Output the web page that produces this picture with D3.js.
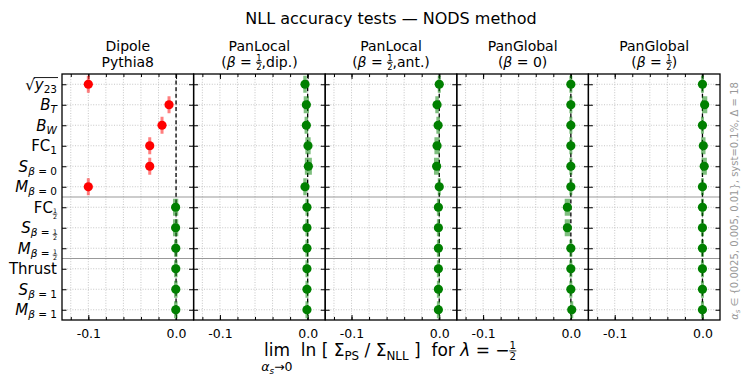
<!DOCTYPE html>
<html>
<head>
<meta charset="utf-8">
<script src="https://cdn.jsdelivr.net/npm/d3@7"></script>
<style>
  body { margin: 0; background: #fff; }
  text { font-family: "DejaVu Sans", sans-serif; white-space: pre; }
</style>
</head>
<body>
<svg id="chart" width="747" height="384"></svg>
<script>
// Observables (rows, top to bottom) written as math parts: [text, kind]
const observables = [
  [["√", "r"], ["y", "i"], ["23", "sub"]],
  [["B", "i"], ["T", "subi"]],
  [["B", "i"], ["W", "subi"]],
  [["FC", "r"], ["1", "sub"]],
  [["S", "i"], ["β", "subi"], [" = 0", "sub"]],
  [["M", "i"], ["β", "subi"], [" = 0", "sub"]],
  [["FC", "r"], ["12", "sfrac"]],
  [["S", "i"], ["β", "subi"], [" = ", "sub"], ["12", "sfrac"]],
  [["M", "i"], ["β", "subi"], [" = ", "sub"], ["12", "sfrac"]],
  [["Thrust", "r"]],
  [["S", "i"], ["β", "subi"], [" = 1", "sub"]],
  [["M", "i"], ["β", "subi"], [" = 1", "sub"]]
];

// Shower titles (two lines each)
const showerTop = ["Dipole", "PanLocal", "PanLocal", "PanGlobal", "PanGlobal"];
const showerSub = [
  [["Pythia8", "r"]],
  [["(", "r"], ["β", "i"], [" = ", "r"], ["12", "frac"], [",dip.)", "r"]],
  [["(", "r"], ["β", "i"], [" = ", "r"], ["12", "frac"], [",ant.)", "r"]],
  [["(", "r"], ["β", "i"], [" = 0)", "r"]],
  [["(", "r"], ["β", "i"], [" = ", "r"], ["12", "frac"], [")", "r"]]
];

// lim ln(Sigma_PS / Sigma_NLL), one array per shower
const dipoleVals    = [-0.100, -0.008, -0.016, -0.030, -0.030, -0.100, -0.0005, -0.0005, -0.0003, -0.0003, -0.0003, -0.0003];
const panLocalDip   = [-0.003, -0.0015, -0.0015, 0.0004, 0.0008, -0.003, -0.0008, -0.0008, -0.0008, -0.0008, -0.0008, -0.0008];
const panLocalAnt   = [0.000, -0.0025, -0.0013, -0.0025, -0.003, 0.000, -0.001, -0.001, -0.001, -0.001, -0.001, -0.001];
const panGlobal0    = [0.000, 0.000, 0.000, 0.000, 0.000, 0.000, -0.004, -0.004, 0.000, 0.000, 0.000, 0.001];
const panGlobalHalf = [0.000, 0.0025, 0.000, 0.001, 0.002, 0.000, 0.000, 0.000, 0.000, 0.000, 0.000, 0.000];

// uncertainties (half widths)
const dipoleErr    = [0.0015, 0.0015, 0.0015, 0.0015, 0.0015, 0.0015, 0.003, 0.003, 0.002, 0.002, 0.002, 0.002];
const panLocalDipE = [0.002, 0.003, 0.002, 0.003, 0.004, 0.002, 0.0015, 0.0015, 0.0015, 0.0015, 0.0015, 0.0015];
const panLocalAntE = [0.0015, 0.002, 0.002, 0.003, 0.003, 0.0015, 0.0015, 0.0015, 0.0015, 0.0015, 0.0015, 0.0015];
const panGlobal0E  = [0.0015, 0.0015, 0.0015, 0.0015, 0.0015, 0.0015, 0.003, 0.003, 0.0015, 0.0015, 0.0015, 0.0015];
const panGlobalHE  = [0.0015, 0.003, 0.0015, 0.0025, 0.003, 0.0015, 0.0015, 0.0015, 0.0015, 0.0015, 0.0015, 0.0015];

const allVals = [dipoleVals, panLocalDip, panLocalAnt, panGlobal0, panGlobalHalf];
const allErrs = [dipoleErr, panLocalDipE, panLocalAntE, panGlobal0E, panGlobalHE];

const xMajor = [-0.1, 0.0];
const xMinor = [-0.12, -0.1, -0.08, -0.06, -0.04, -0.02, 0.0];
const groupBreaks = [5.5, 8.5]; // separators between observable groups

const svg = d3.select("#chart");
const plotLeft = 62, plotTop = 74, pw = 131.6, ph = 246;

// renders mathtext-like labels with sub/superscripts and stacked fractions
function mathText(g, parts, x, y, size, anchor, over) {
  const t = g.append("text")
    .attr("x", x).attr("y", y)
    .attr("font-size", size)
    .attr("text-anchor", anchor || "start");
  let cur = 0, idx = 0;
  const bars = [];
  const shift = (target) => { const d = target - cur; cur = target; return d; };
  parts.forEach(([s, k]) => {
    if (k === "frac" || k === "sfrac") {
      const small = k === "sfrac";
      const fs = size * (small ? 0.42 : 0.6);
      const mid = small ? 0.1 * size : -0.3 * size;
      const num = mid - (small ? 0.07 : 0.1) * size;
      const den = mid + (small ? 0.35 : 0.54) * size;
      t.append("tspan").attr("font-size", fs).attr("dy", shift(num)).text(s[0]);
      t.append("tspan").attr("font-size", fs).attr("dx", -0.636 * fs).attr("dy", shift(den)).text(s[1]);
      bars.push({ from: idx, to: idx + 1, y: mid, w: small ? 0.6 : 0.8 });
      idx += 2;
      return;
    }
    const sub = k === "sub" || k === "subi";
    t.append("tspan")
      .attr("dy", shift(sub ? 0.22 * size : 0))
      .attr("font-size", sub ? size * 0.7 : size)
      .attr("font-style", (k === "i" || k === "subi") ? "italic" : "normal")
      .text(s);
    idx += s.length;
  });
  const node = t.node();
  bars.forEach(b => {
    const x0 = node.getStartPositionOfChar(b.from).x;
    const x1 = node.getEndPositionOfChar(b.to).x;
    g.append("line")
      .attr("x1", x0 - 0.3).attr("x2", x1 + 0.3)
      .attr("y1", y + b.y).attr("y2", y + b.y)
      .attr("stroke", "currentColor").attr("stroke-width", b.w);
  });
  if (over) {
    const x0 = node.getStartPositionOfChar(over[0]).x;
    const x1 = node.getEndPositionOfChar(over[1]).x;
    g.append("line")
      .attr("x1", x0 - 1).attr("x2", x1 + 1)
      .attr("y1", y - 0.8 * size).attr("y2", y - 0.8 * size)
      .attr("stroke", "#000").attr("stroke-width", 0.9);
  }
  return t;
}

// title
svg.append("text")
  .attr("x", 391).attr("y", 24)
  .attr("text-anchor", "middle")
  .attr("font-size", 16)
  .text("NLL accuracy tests — NODS method");

const x = d3.scaleLinear().domain([-0.13, 0.02]).range([0, pw]);
const y = d3.scalePoint().domain(d3.range(observables.length)).range([0, ph]).padding(0.5);

allVals.forEach((vals, p) => {
  const errs = allErrs[p];
  const g = svg.append("g").attr("transform", `translate(${plotLeft + p * pw},${plotTop})`);

  // grid lines
  g.append("g").selectAll("line").data(xMinor).join("line")
    .attr("x1", d => x(d)).attr("x2", d => x(d))
    .attr("y1", 0).attr("y2", ph)
    .attr("stroke", "#b8b8b8").attr("stroke-width", 0.8)
    .attr("stroke-dasharray", "1,1.6");
  g.append("g").selectAll("line").data(y.domain()).join("line")
    .attr("x1", 0).attr("x2", pw)
    .attr("y1", d => y(d)).attr("y2", d => y(d))
    .attr("stroke", "#b8b8b8").attr("stroke-width", 0.8)
    .attr("stroke-dasharray", "1,1.6");

  // group separators
  g.append("g").selectAll("line").data(groupBreaks).join("line")
    .attr("x1", 0).attr("x2", pw)
    .attr("y1", d => y(0) + d * y.step()).attr("y2", d => y(0) + d * y.step())
    .attr("stroke", "#999").attr("stroke-width", 1);

  // zero line
  g.append("line")
    .attr("x1", x(0)).attr("x2", x(0)).attr("y1", 0).attr("y2", ph)
    .attr("stroke", "#000").attr("stroke-width", 1.3)
    .attr("stroke-dasharray", "4,2.6");

  // axes with inward ticks
  const noLabel = () => "";
  g.append("g").attr("transform", `translate(0,${ph})`)
    .call(d3.axisBottom(x).tickValues(xMinor).tickSize(-3).tickFormat(noLabel));
  g.append("g")
    .call(d3.axisTop(x).tickValues(xMinor).tickSize(-3).tickFormat(noLabel));
  g.append("g").attr("transform", `translate(0,${ph})`)
    .call(d3.axisBottom(x).tickValues(xMajor).tickSize(-5).tickPadding(9)
      .tickFormat(d => d.toFixed(1)))
    .call(a => a.selectAll("text").attr("font-size", 12.5).attr("font-family", "DejaVu Sans"));
  g.append("g")
    .call(d3.axisTop(x).tickValues(xMajor).tickSize(-5).tickFormat(noLabel));
  g.append("g")
    .call(d3.axisLeft(y).tickSize(-4.5).tickFormat(noLabel));
  g.append("g").attr("transform", `translate(${pw},0)`)
    .call(d3.axisRight(y).tickSize(-4.5).tickFormat(noLabel));
  g.selectAll(".domain").remove();
  g.selectAll(".tick line").attr("stroke", "#000").attr("stroke-width", 1);

  // frame
  g.append("rect")
    .attr("width", pw).attr("height", ph)
    .attr("fill", "none").attr("stroke", "#000").attr("stroke-width", 1.3);

  // points
  const colour = (v, e) => Math.abs(v) > 3 * e ? "#ff0000" : "#008000";
  const pts = g.append("g").selectAll("g").data(vals).join("g");
  pts.append("rect")
    .attr("x", (d, i) => Math.min(x(d - errs[i]), x(d) - 1.5))
    .attr("width", (d, i) => Math.max(x(d + errs[i]) - x(d - errs[i]), 3))
    .attr("y", (d, i) => y(i) - 8.5)
    .attr("height", 17)
    .attr("fill", (d, i) => colour(d, errs[i]))
    .attr("opacity", 0.5);
  pts.append("circle")
    .attr("cx", d => x(d))
    .attr("cy", (d, i) => y(i))
    .attr("r", 4.6)
    .attr("fill", (d, i) => colour(d, errs[i]));

  // panel title
  svg.append("text")
    .attr("x", plotLeft + p * pw + pw / 2).attr("y", 50.5)
    .attr("text-anchor", "middle").attr("font-size", 14)
    .text(showerTop[p]);
  mathText(svg, showerSub[p], plotLeft + p * pw + pw / 2, 66.5, 14, "middle");
});

// observable labels
observables.forEach((parts, i) => {
  mathText(svg, parts, 57, plotTop + y(i) + 5.3, 15, "end", i === 0 ? [1, 3] : null);
});

// x axis label
const xl = mathText(svg, [
  ["lim  ln [ Σ", "r"], ["PS", "sub"], [" / Σ", "r"], ["NLL", "sub"],
  [" ]  for ", "r"], ["λ", "i"], [" = −", "r"], ["12", "frac"]
], 390, 356, 17, "middle");
const limStart = xl.node().getStartPositionOfChar(0).x;
const limEnd = xl.node().getEndPositionOfChar(2).x;
mathText(svg, [["α", "i"], ["s", "subi"], ["→0", "r"]], (limStart + limEnd) / 2, 371, 12.5, "middle");

// side note
const side = svg.append("g").attr("transform", "translate(738,201) rotate(-90)")
  .attr("fill", "#999");
mathText(side, [["α", "i"], ["s", "subi"], [" ∈ {0.0025, 0.005, 0.01}, syst=0.1%, Δ = 18", "r"]],
  0, 0, 10, "middle").attr("fill", "#999");
</script>
</body>
</html>
